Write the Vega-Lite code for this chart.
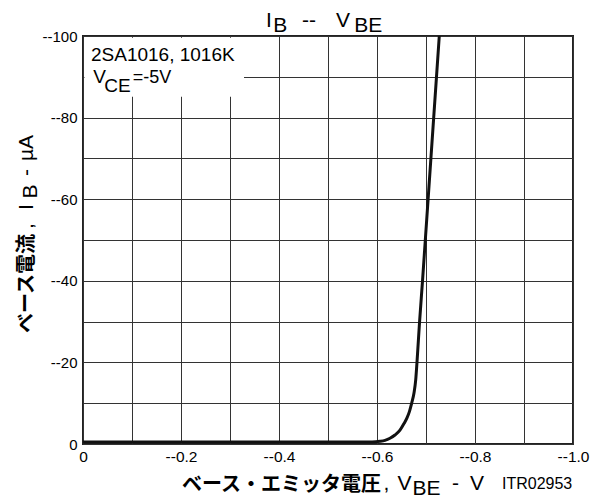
{
  "$schema": "https://vega.github.io/schema/vega-lite/v6.json",
  "width": 490,
  "height": 408,
  "autosize": {"type": "none"},
  "padding": {"left": 83, "top": 36, "right": 19, "bottom": 55},
  "config": {
    "view": {"stroke": "#222", "strokeWidth": 2},
    "text": {"font": "Liberation Sans", "color": "#000", "baseline": "alphabetic", "align": "left"}
  },
  "layer": [
    {
      "data": {
        "values": [
          {"V": 0, "I": -0.5},
          {"V": -0.3, "I": -0.5},
          {"V": -0.59, "I": -0.5},
          {"V": -0.6061, "I": -0.66},
          {"V": -0.6163, "I": -0.9},
          {"V": -0.6265, "I": -1.4},
          {"V": -0.6367, "I": -2.2},
          {"V": -0.6469, "I": -3.4},
          {"V": -0.6551, "I": -5.0},
          {"V": -0.6612, "I": -6.4},
          {"V": -0.6663, "I": -8.0},
          {"V": -0.6708, "I": -10.0},
          {"V": -0.6755, "I": -12.5},
          {"V": -0.679, "I": -15.7},
          {"V": -0.6816, "I": -20},
          {"V": -0.6869, "I": -30},
          {"V": -0.6929, "I": -40},
          {"V": -0.6986, "I": -50},
          {"V": -0.7043, "I": -60},
          {"V": -0.71, "I": -70},
          {"V": -0.7157, "I": -80},
          {"V": -0.7214, "I": -90},
          {"V": -0.7271, "I": -100}
        ]
      },
      "mark": {"type": "line", "color": "#111", "strokeWidth": 3, "interpolate": "monotone"},
      "encoding": {
        "x": {
          "field": "V", "type": "quantitative",
          "scale": {"domain": [0, -1], "nice": false, "zero": false},
          "axis": {
            "values": [0, -0.1, -0.2, -0.3, -0.4, -0.5, -0.6, -0.7, -0.8, -0.9, -1.0],
            "title": null, "grid": true, "gridColor": "#333", "gridWidth": 1,
            "domain": false, "ticks": false, "labelPadding": 5,
            "labelFont": "Liberation Sans", "labelFontSize": 15.5, "labelColor": "#000",
            "labelOverlap": false, "labelFlush": false, "labelBound": false,
            "labelExpr": "round(datum.value*10)%2==0 ? (datum.value==0 ? '0' : '--' + format(-datum.value,'.1f')) : ''"
          }
        },
        "y": {
          "field": "I", "type": "quantitative",
          "scale": {"domain": [0, -100], "nice": false, "zero": false},
          "axis": {
            "values": [0, -10, -20, -30, -40, -50, -60, -70, -80, -90, -100],
            "title": null, "grid": true, "gridColor": "#333", "gridWidth": 1,
            "domain": false, "ticks": false, "labelPadding": 6,
            "labelFont": "Liberation Sans", "labelFontSize": 15, "labelColor": "#000",
            "labelOverlap": false, "labelFlush": false, "labelBound": false,
            "labelExpr": "round(datum.value)%20==0 ? (datum.value==0 ? '0' : '--' + format(-datum.value,'d')) : ''"
          }
        }
      }
    },
    {
      "data": {"values": [{}]},
      "mark": {"type": "rect", "color": "#fff"},
      "encoding": {
        "x": {"datum": -0.003, "type": "quantitative"},
        "x2": {"datum": -0.3286},
        "y": {"datum": -99.6, "type": "quantitative"},
        "y2": {"datum": -85.1}
      }
    },
    {"data": {"values": [{"t": "2SA1016, 1016K"}]}, "mark": {"type": "text", "fontSize": 19},
     "encoding": {"text": {"field": "t"}, "x": {"datum": -0.0163, "type": "quantitative"}, "y": {"datum": -93.95, "type": "quantitative"}}},
    {"data": {"values": [{"t": "V"}]}, "mark": {"type": "text", "fontSize": 19},
     "encoding": {"text": {"field": "t"}, "x": {"datum": -0.021, "type": "quantitative"}, "y": {"datum": -88.4, "type": "quantitative"}}},
    {"data": {"values": [{"t": "CE"}]}, "mark": {"type": "text", "fontSize": 19},
     "encoding": {"text": {"field": "t"}, "x": {"datum": -0.0435, "type": "quantitative"}, "y": {"datum": -86.35, "type": "quantitative"}}},
    {"data": {"values": [{"t": "=-5V"}]}, "mark": {"type": "text", "fontSize": 18},
     "encoding": {"text": {"field": "t"}, "x": {"datum": -0.1015, "type": "quantitative"}, "y": {"datum": -88.4, "type": "quantitative"}}},

    {"data": {"values": [{"t": "I"}]}, "mark": {"type": "text", "fontSize": 21},
     "encoding": {"text": {"field": "t"}, "x": {"datum": -0.3735, "type": "quantitative"}, "y": {"datum": -102.28, "type": "quantitative"}}},
    {"data": {"values": [{"t": "B"}]}, "mark": {"type": "text", "fontSize": 21},
     "encoding": {"text": {"field": "t"}, "x": {"datum": -0.3884, "type": "quantitative"}, "y": {"datum": -101.05, "type": "quantitative"}}},
    {"data": {"values": [{"t": "--"}]}, "mark": {"type": "text", "fontSize": 21},
     "encoding": {"text": {"field": "t"}, "x": {"datum": -0.4469, "type": "quantitative"}, "y": {"datum": -102.28, "type": "quantitative"}}},
    {"data": {"values": [{"t": "V"}]}, "mark": {"type": "text", "fontSize": 21},
     "encoding": {"text": {"field": "t"}, "x": {"datum": -0.5163, "type": "quantitative"}, "y": {"datum": -102.28, "type": "quantitative"}}},
    {"data": {"values": [{"t": "BE"}]}, "mark": {"type": "text", "fontSize": 21},
     "encoding": {"text": {"field": "t"}, "x": {"datum": -0.5537, "type": "quantitative"}, "y": {"datum": -101.05, "type": "quantitative"}}},

    {"data": {"values": [{"t": "ベース・エミッタ電圧"}]}, "mark": {"type": "text", "fontSize": 20, "font": "Noto Sans CJK JP", "fontWeight": "bold"},
     "encoding": {"text": {"field": "t"}, "x": {"datum": -0.202, "type": "quantitative"}, "y": {"datum": 11.52, "type": "quantitative"}}},
    {"data": {"values": [{"t": ","}]}, "mark": {"type": "text", "fontSize": 21},
     "encoding": {"text": {"field": "t"}, "x": {"datum": -0.6133, "type": "quantitative"}, "y": {"datum": 11.27, "type": "quantitative"}}},
    {"data": {"values": [{"t": "V"}]}, "mark": {"type": "text", "fontSize": 21},
     "encoding": {"text": {"field": "t"}, "x": {"datum": -0.6418, "type": "quantitative"}, "y": {"datum": 11.27, "type": "quantitative"}}},
    {"data": {"values": [{"t": "BE"}]}, "mark": {"type": "text", "fontSize": 21},
     "encoding": {"text": {"field": "t"}, "x": {"datum": -0.6724, "type": "quantitative"}, "y": {"datum": 12.62, "type": "quantitative"}}},
    {"data": {"values": [{"t": "-"}]}, "mark": {"type": "text", "fontSize": 21},
     "encoding": {"text": {"field": "t"}, "x": {"datum": -0.7531, "type": "quantitative"}, "y": {"datum": 11.27, "type": "quantitative"}}},
    {"data": {"values": [{"t": "V"}]}, "mark": {"type": "text", "fontSize": 21},
     "encoding": {"text": {"field": "t"}, "x": {"datum": -0.7898, "type": "quantitative"}, "y": {"datum": 11.27, "type": "quantitative"}}},
    {"data": {"values": [{"t": "ITR02953"}]}, "mark": {"type": "text", "fontSize": 16},
     "encoding": {"text": {"field": "t"}, "x": {"datum": -0.8551, "type": "quantitative"}, "y": {"datum": 11.03, "type": "quantitative"}}},

    {"data": {"values": [{"t": "ベース電流"}]}, "mark": {"type": "text", "fontSize": 20, "font": "Noto Sans CJK JP", "fontWeight": "bold", "angle": 270},
     "encoding": {"text": {"field": "t"}, "x": {"datum": 0.102, "type": "quantitative"}, "y": {"datum": -27.2, "type": "quantitative"}}},
    {"data": {"values": [{"t": ","}]}, "mark": {"type": "text", "fontSize": 21, "angle": 270},
     "encoding": {"text": {"field": "t"}, "x": {"datum": 0.102, "type": "quantitative"}, "y": {"datum": -52.7, "type": "quantitative"}}},
    {"data": {"values": [{"t": "I"}]}, "mark": {"type": "text", "fontSize": 21, "angle": 270},
     "encoding": {"text": {"field": "t"}, "x": {"datum": 0.102, "type": "quantitative"}, "y": {"datum": -57.35, "type": "quantitative"}}},
    {"data": {"values": [{"t": "B"}]}, "mark": {"type": "text", "fontSize": 21, "angle": 270},
     "encoding": {"text": {"field": "t"}, "x": {"datum": 0.0939, "type": "quantitative"}, "y": {"datum": -60.17, "type": "quantitative"}}},
    {"data": {"values": [{"t": "-"}]}, "mark": {"type": "text", "fontSize": 21, "angle": 270},
     "encoding": {"text": {"field": "t"}, "x": {"datum": 0.102, "type": "quantitative"}, "y": {"datum": -65.7, "type": "quantitative"}}},
    {"data": {"values": [{"t": "µA"}]}, "mark": {"type": "text", "fontSize": 21, "angle": 270},
     "encoding": {"text": {"field": "t"}, "x": {"datum": 0.102, "type": "quantitative"}, "y": {"datum": -69.36, "type": "quantitative"}}}
  ]
}
